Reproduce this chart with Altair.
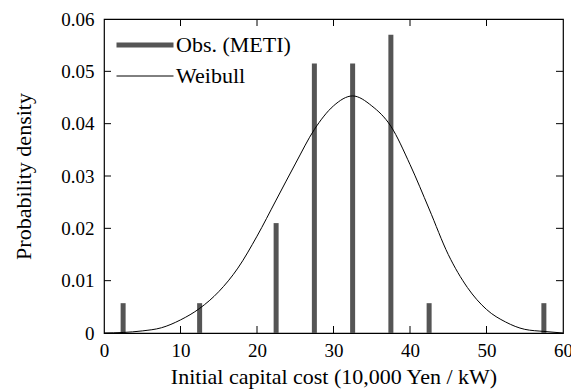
import altair as alt
import pandas as pd

# Observed cost classes (bin centres) and their probability densities
obs_cost = [2.5, 12.5, 22.5, 27.5, 32.5, 37.5, 42.5, 57.5]
obs_density = [0.0057, 0.0057, 0.021, 0.0515, 0.0515, 0.057, 0.0057, 0.0057]

# Fitted Weibull density, sampled along the cost axis
fit_cost = [0, 2.5, 5, 7.5, 10, 12.5, 15, 17.5, 20, 22.5, 25, 27.5, 30,
            32.5, 35, 37.5, 40, 42.5, 45, 47.5, 50, 52.5, 55, 57.5, 60]
fit_density = [0.0, 0.0001, 0.0004, 0.0010, 0.0025, 0.0047, 0.0079, 0.0124,
               0.0185, 0.0254, 0.0323, 0.0389, 0.0434, 0.0453, 0.0434, 0.0395,
               0.0322, 0.0237, 0.0150, 0.0087, 0.0045, 0.0021, 0.0007, 0.0003,
               0.0]

x_ticks = [0, 10, 20, 30, 40, 50, 60]
y_ticks = [0, 0.01, 0.02, 0.03, 0.04, 0.05, 0.06]
inner_x_ticks = [10, 20, 30, 40, 50]
inner_y_ticks = [0.01, 0.02, 0.03, 0.04, 0.05]

series_names = ["Obs. (METI)", "Weibull"]
series_colors = ["#555555", "#000000"]
series_widths = [5, 1]

W, H = 459, 314
TICK = 7
FONT = "Liberation Serif"

obs = pd.DataFrame({"cost": obs_cost, "density": obs_density,
                    "series": series_names[0]})
fit = pd.DataFrame({"cost": fit_cost, "density": fit_density,
                    "series": series_names[1]})
xt = pd.DataFrame({"cost": inner_x_ticks})
yt = pd.DataFrame({"density": inner_y_ticks})

x_scale = alt.Scale(domain=[0, 60], nice=False, zero=False)
y_scale = alt.Scale(domain=[0, 0.06], nice=False)

x_axis = alt.Axis(values=x_ticks, ticks=False, domain=False, grid=False,
                  labelFlush=False, labelPadding=8, titlePadding=6,
                  title="Initial capital cost (10,000 Yen / kW)")
y_axis = alt.Axis(values=y_ticks, ticks=False, domain=False, grid=False,
                  labelFlush=False,
                  labelExpr="datum.value == 0 ? '0' : format(datum.value, '.2f')",
                  labelPadding=10, titlePadding=25, title="Probability density")

x_enc = alt.X("cost:Q", scale=x_scale, axis=x_axis)
y_enc = alt.Y("density:Q", scale=y_scale, axis=y_axis)

color = alt.Color(
    "series:N",
    scale=alt.Scale(domain=series_names, range=series_colors),
    legend=alt.Legend(
        title="", orient="none", legendX=10, legendY=15,
        symbolType="stroke", symbolSize=3249, clipHeight=22, rowPadding=9,
        labelFont=FONT, labelFontSize=22, labelColor="black", labelOffset=0,
        padding=0,
    ),
)
stroke_w = alt.StrokeWidth(
    "series:N",
    scale=alt.Scale(domain=series_names, range=series_widths),
    legend=alt.Legend(title=""),
)

# Observed densities as thick vertical bars
bars = alt.Chart(obs).mark_rule(strokeCap="butt").encode(
    x=x_enc, y=y_enc, y2=alt.datum(0), color=color, strokeWidth=stroke_w,
)

# Fitted Weibull curve
curve = alt.Chart(fit).mark_line(interpolate="monotone").encode(
    x=x_enc, y=y_enc, color=color, strokeWidth=stroke_w,
)

# Inward tick marks on all four edges of the frame
tick_style = dict(color="black", strokeWidth=1)

ticks_bottom = alt.Chart(xt).mark_rule(**tick_style).encode(
    x=x_enc, y=alt.value(H), y2=alt.value(H - TICK))
ticks_top = alt.Chart(xt).mark_rule(**tick_style).encode(
    x=x_enc, y=alt.value(0), y2=alt.value(TICK))
ticks_left = alt.Chart(yt).mark_rule(**tick_style).encode(
    y=y_enc, x=alt.value(0), x2=alt.value(TICK))
ticks_right = alt.Chart(yt).mark_rule(**tick_style).encode(
    y=y_enc, x=alt.value(W), x2=alt.value(W - TICK))

chart = (
    alt.layer(bars, curve, ticks_bottom, ticks_top, ticks_left, ticks_right)
    .properties(
        width=W, height=H,
        autosize=alt.AutoSizeParams(type="none"),
        padding={"left": 104, "top": 19, "right": 8, "bottom": 59},
        background="white",
    )
    .configure_view(stroke="black", strokeWidth=1.2)
    .configure_axis(
        labelFont=FONT, labelFontSize=19, labelColor="black",
        titleFont=FONT, titleFontSize=22, titleFontWeight="normal",
        titleColor="black",
    )
)

chart.save("out.html", embed_options={"renderer": "svg", "actions": False})
